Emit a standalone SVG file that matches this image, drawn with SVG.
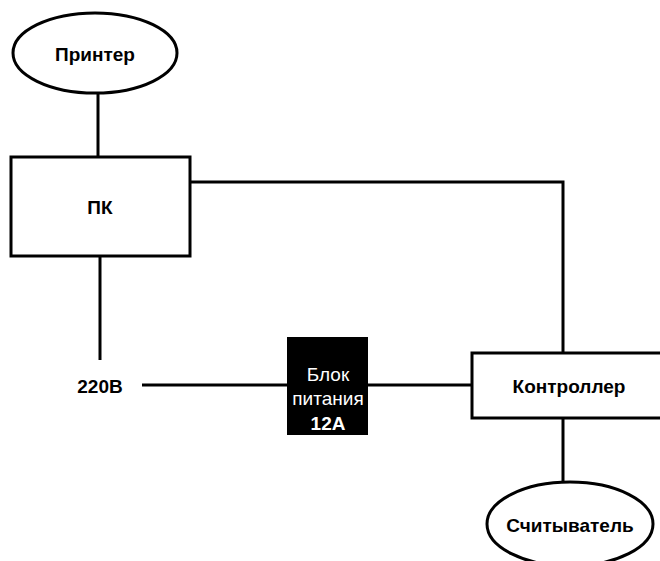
<svg xmlns="http://www.w3.org/2000/svg" width="660" height="561" viewBox="0 0 660 561">
  <style>
    .shape { fill: #ffffff; stroke: #000000; stroke-width: 3; }
    .wire { fill: none; stroke: #000000; stroke-width: 3; }
    .label { font-family: "Liberation Sans", Arial, sans-serif; font-weight: bold; font-size: 19px; fill: #000000; text-anchor: middle; dominant-baseline: central; }
    .psu-text { font-family: "Liberation Sans", Arial, sans-serif; font-size: 19px; fill: #ffffff; text-anchor: middle; dominant-baseline: central; }
  </style>
  <rect width="660" height="561" fill="#ffffff"/>

  <g id="connectors">
    <line class="wire" x1="98" y1="93" x2="98" y2="157"/>
    <line class="wire" x1="100" y1="256" x2="100" y2="360"/>
    <polyline class="wire" points="190,182 563,182 563,353"/>
    <line class="wire" x1="142" y1="385" x2="288" y2="385"/>
    <line class="wire" x1="368" y1="385" x2="472" y2="385"/>
    <line class="wire" x1="563" y1="418" x2="563" y2="482"/>
  </g>

  <g id="printer">
    <ellipse class="shape" cx="95" cy="53" rx="82" ry="40"/>
    <text class="label" x="95" y="54">Принтер</text>
  </g>

  <g id="pc">
    <rect class="shape" x="11" y="157" width="179" height="99"/>
    <text class="label" x="100" y="207">ПК</text>
  </g>

  <g id="mains">
    <text class="label" x="100" y="386">220В</text>
  </g>

  <g id="psu">
    <rect x="287" y="337" width="81" height="98" fill="#000000"/>
    <text class="psu-text" x="328" y="374">Блок</text>
    <text class="psu-text" x="328" y="398">питания</text>
    <text class="psu-text" x="328" y="423" font-weight="bold" font-size="20">12А</text>
  </g>

  <g id="controller">
    <rect class="shape" x="472" y="353" width="200" height="65"/>
    <text class="label" x="569" y="386">Контроллер</text>
  </g>

  <g id="reader">
    <ellipse class="shape" cx="570" cy="524" rx="83" ry="42"/>
    <text class="label" x="570" y="525">Считыватель</text>
  </g>
</svg>
